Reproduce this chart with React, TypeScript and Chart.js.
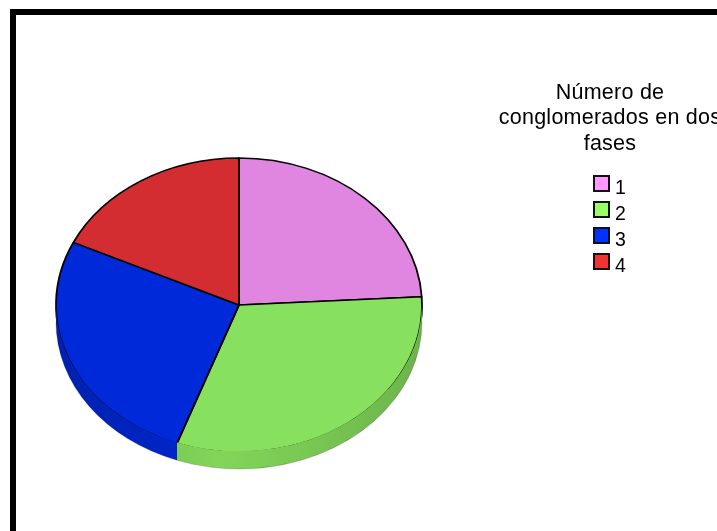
import React, { useEffect, useRef } from 'react';
import { Chart, registerables } from 'chart.js';

Chart.register(...registerables);

// ---- data ----
const categories = ['1', '2', '3', '4'];
const values = [24.1, 31.4, 26.5, 18.0];
const legendTitle = ['Número de', 'conglomerados en dos', 'fases'];
const topRGB = [
  [224, 134, 224],
  [136, 225, 94],
  [0, 41, 218],
  [211, 45, 50],
];
const legendColors = ['rgb(255,153,255)', 'rgb(153,255,102)', 'rgb(0,51,255)', 'rgb(240,51,51)'];

// ---- geometry ----
const W = 717;
const H = 531;
const CX = 239;
const CY = 305;
const RX = 183;
const K = 147 / 183;
const DEPTH = 17;

const rgb = (c: number[], f = 1) =>
  `rgb(${Math.round(c[0] * f)},${Math.round(c[1] * f)},${Math.round(c[2] * f)})`;

const squashPlugin = {
  id: 'squash3d',
  beforeDatasetsDraw(chart: any) {
    const ctx = chart.ctx;
    ctx.save();
    ctx.translate(0, CY * (1 - K));
    ctx.scale(1, K);
  },
  afterDatasetsDraw(chart: any) {
    const ctx = chart.ctx;
    ctx.restore();
    const meta = chart.getDatasetMeta(0);
    meta.data.forEach((arc: any, i: number) => {
      const { x, y, startAngle, endAngle, outerRadius } = arc.getProps(
        ['x', 'y', 'startAngle', 'endAngle', 'outerRadius'],
        true
      );
      const cx = x;
      const cy = y * K + CY * (1 - K);
      const rx = outerRadius;
      const ry = outerRadius * K;
      for (let k = -1; k <= 1; k++) {
        const lo = Math.max(startAngle, 2 * Math.PI * k);
        const hi = Math.min(endAngle, Math.PI + 2 * Math.PI * k);
        if (hi <= lo) continue;
        const g = ctx.createLinearGradient(cx - rx, 0, cx + rx, 0);
        g.addColorStop(0, rgb(topRGB[i], 0.8));
        g.addColorStop(0.45, rgb(topRGB[i], 0.95));
        g.addColorStop(1, rgb(topRGB[i], 0.8));
        ctx.save();
        ctx.beginPath();
        ctx.ellipse(cx, cy - 0.9, rx, ry, 0, lo, hi);
        ctx.ellipse(cx, cy + DEPTH, rx, ry, 0, hi, lo, true);
        ctx.closePath();
        ctx.fillStyle = g;
        ctx.fill();
        ctx.beginPath();
        ctx.ellipse(cx, cy + DEPTH, rx, ry, 0, lo, hi);
        ctx.strokeStyle = 'rgba(0,0,0,0.18)';
        ctx.lineWidth = 1;
        ctx.stroke();
        ctx.restore();
      }
    });
  },
};

export default function App() {
  const ref = useRef<HTMLCanvasElement | null>(null);

  useEffect(() => {
    if (!ref.current) return;
    const chart = new Chart(ref.current, {
      type: 'pie',
      data: {
        labels: categories,
        datasets: [
          {
            data: values,
            backgroundColor: topRGB.map((c) => rgb(c)),
            borderColor: '#000',
            borderWidth: 1.8,
            radius: RX,
            clip: false,
            hoverOffset: 0,
          } as any,
        ],
      },
      options: {
        responsive: false,
        animation: false,
        events: [],
        layout: {
          padding: {
            left: CX - RX,
            right: W - (CX + RX),
            top: CY - RX,
            bottom: H - (CY + RX),
          },
        },
        plugins: {
          legend: { display: false },
          tooltip: { enabled: false },
        },
      },
      plugins: [squashPlugin],
    });
    return () => chart.destroy();
  }, []);

  const font = '"Liberation Sans", Arial, sans-serif';

  return (
    <div
      style={{
        position: 'fixed',
        left: 0,
        top: 0,
        width: W,
        height: H,
        overflow: 'hidden',
        background: '#fff',
      }}
    >
      <canvas
        ref={ref}
        width={W}
        height={H}
        style={{ position: 'absolute', left: 0, top: 0, display: 'block' }}
      />
      <div
        style={{
          position: 'absolute',
          left: 10,
          top: 9,
          width: 800,
          height: 700,
          border: '6px solid #000',
          boxSizing: 'border-box',
        }}
      />
      <div
        style={{
          position: 'absolute',
          left: 480,
          top: 80,
          width: 260,
          textAlign: 'center',
          fontFamily: font,
          fontSize: 21.5,
          letterSpacing: '0.25px',
          lineHeight: '25.3px',
          color: '#000',
          whiteSpace: 'nowrap',
        }}
      >
        {legendTitle.map((t, i) => (
          <div key={i}>{t}</div>
        ))}
      </div>
      {categories.map((c, i) => (
        <React.Fragment key={c}>
          <div
            style={{
              position: 'absolute',
              left: 593,
              top: 175 + i * 26,
              width: 17,
              height: 17,
              boxSizing: 'border-box',
              border: '2px solid #111',
              background: legendColors[i],
            }}
          />
          <div
            style={{
              position: 'absolute',
              left: 615,
              top: 177 + i * 26,
              fontFamily: font,
              fontSize: 19.5,
              lineHeight: '20px',
              color: '#000',
            }}
          >
            {c}
          </div>
        </React.Fragment>
      ))}
    </div>
  );
}
